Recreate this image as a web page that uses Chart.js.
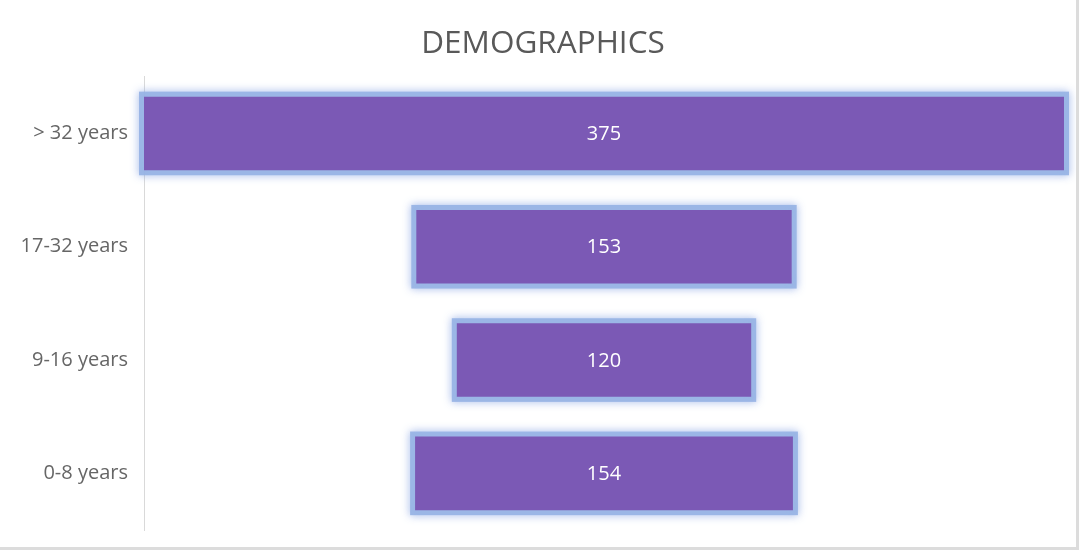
<!DOCTYPE html>
<html>
<head>
<meta charset="utf-8">
<script src="https://cdn.jsdelivr.net/npm/chart.js@4.4.1/dist/chart.umd.min.js"></script>
<style>
  html, body { margin: 0; padding: 0; background: #dcdcdc; width: 1079px; height: 550px; overflow: hidden; }
  #wrap { position: absolute; left: 0; top: 0; width: 1076px; height: 547px; background: #ffffff; }
</style>
</head>
<body>
<div id="wrap"><canvas id="c" width="1076" height="547"></canvas></div>
<script>
const categories = ["> 32 years", "17-32 years", "9-16 years", "0-8 years"];
const values = [375, 153, 120, 154];
const titleText = "DEMOGRAPHICS";

const maxVal = Math.max(...values);
const spans = values.map(v => [-v / 2, v / 2]);

const glowPlugin = {
  id: 'glow',
  beforeDatasetsDraw(chart) {
    const ctx = chart.ctx;
    const meta = chart.getDatasetMeta(0);
    ctx.save();
    meta.data.forEach(el => {
      const p = el.getProps(['x', 'y', 'base', 'height'], true);
      const left = Math.min(p.x, p.base), right = Math.max(p.x, p.base);
      const top = p.y - p.height / 2, h = p.height;
      ctx.shadowColor = 'rgba(130,160,225,0.9)';
      ctx.shadowBlur = 9;
      ctx.strokeStyle = 'rgba(150,178,228,0.9)';
      ctx.lineWidth = 6;
      ctx.strokeRect(left - 2, top - 2, right - left + 4, h + 4);
    });
    ctx.restore();
  },
  afterDatasetsDraw(chart) {
    const ctx = chart.ctx;
    const meta = chart.getDatasetMeta(0);
    ctx.save();
    ctx.fillStyle = '#ffffff';
    ctx.font = '20px "Open Sans"';
    ctx.textAlign = 'center';
    ctx.textBaseline = 'middle';
    meta.data.forEach((el, i) => {
      const p = el.getProps(['x', 'y', 'base'], true);
      ctx.fillText(String(values[i]), (p.x + p.base) / 2, p.y + 1);
    });
    ctx.restore();
  }
};

new Chart(document.getElementById('c'), {
  type: 'bar',
  data: {
    labels: categories,
    datasets: [{
      data: spans,
      backgroundColor: '#7b59b5',
      borderWidth: 0,
      barPercentage: 0.65,
      categoryPercentage: 1.0
    }]
  },
  options: {
    indexAxis: 'y',
    responsive: false,
    animation: false,
    layout: { padding: { left: 22, right: 12, top: 0, bottom: 17 } },
    plugins: {
      legend: { display: false },
      tooltip: { enabled: false },
      title: {
        display: true,
        text: titleText,
        color: '#595959',
        font: { family: '"Open Sans"', size: 31.5, weight: 'normal' },
        padding: { top: 25, bottom: 14 }
      }
    },
    scales: {
      x: {
        display: false,
        min: -maxVal / 2,
        max: maxVal / 2
      },
      y: {
        offset: true,
        grid: { display: false, drawTicks: false },
        border: { display: true, color: '#d9d9d9', width: 1 },
        ticks: {
          color: '#666666',
          font: { family: '"Open Sans"', size: 20 },
          padding: 16
        },
        afterFit(scale) {
          scale.width = 122;
          scale.paddingTop = 0;
          scale.paddingBottom = 0;
        }
      }
    }
  },
  plugins: [glowPlugin]
});
</script>
</body>
</html>
